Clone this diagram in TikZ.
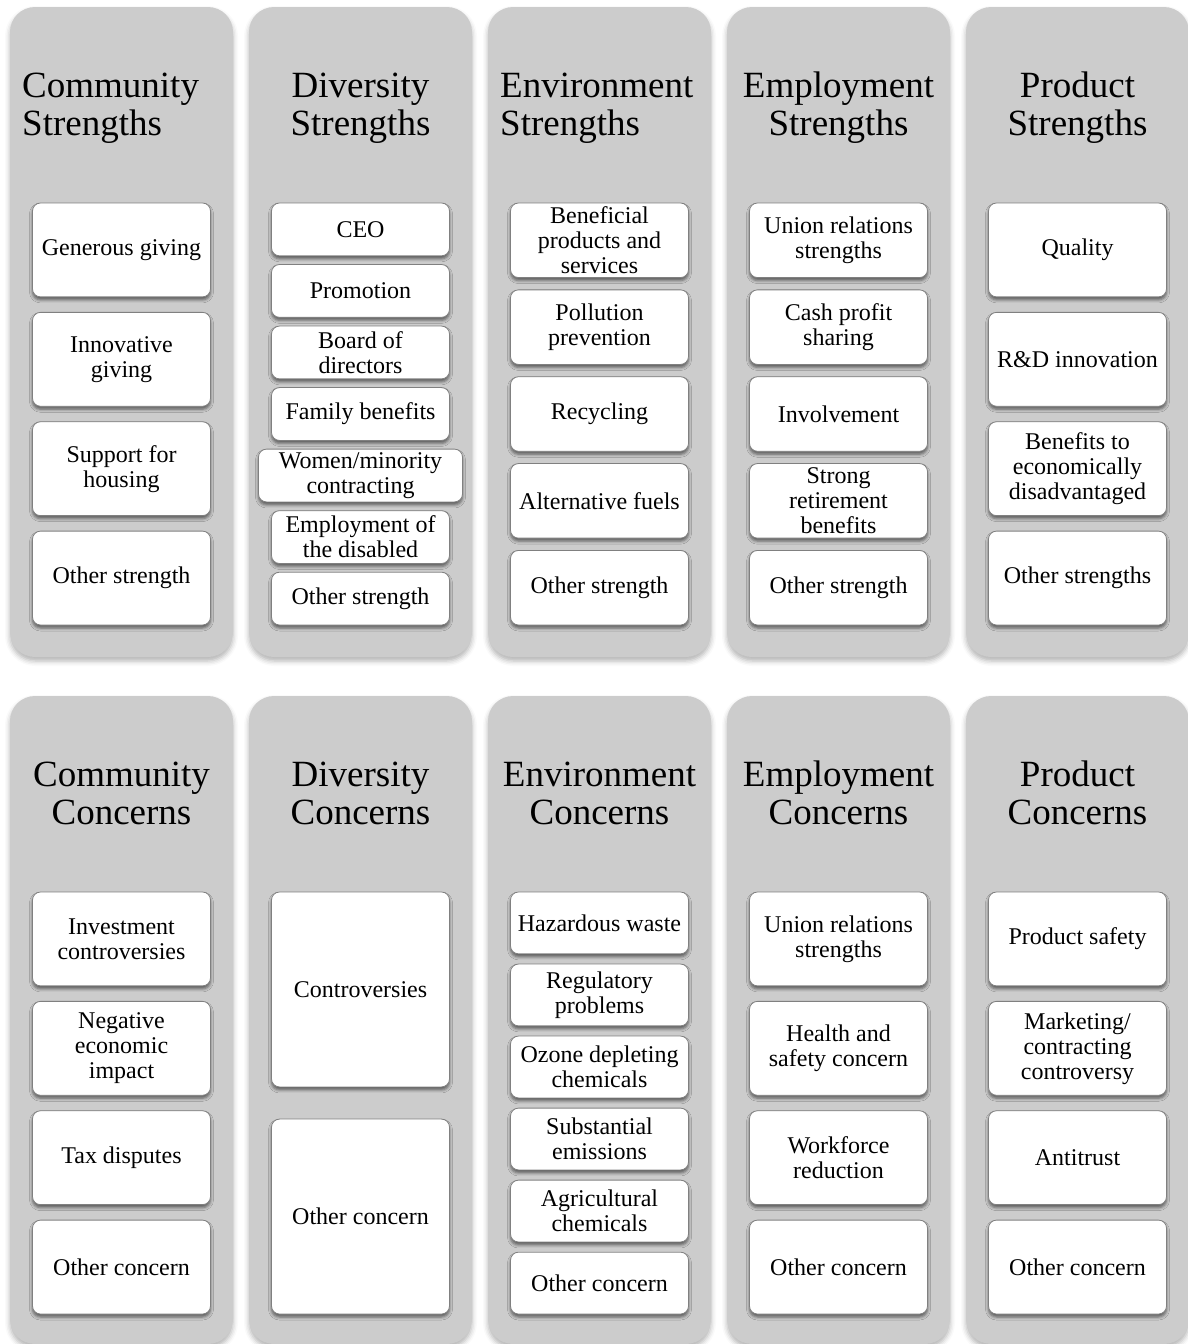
\documentclass[tikz,border=0pt]{standalone}
\usepackage{fontspec}
\setmainfont{Liberation Serif}
\usetikzlibrary{shadows.blur}
\definecolor{panelgray}{HTML}{CCCCCC}
\definecolor{boxline}{HTML}{808080}

% A vertical stack of item boxes inside one panel.
% #1 name prefix, #2 centre x, #3 top y, #4 number of boxes,
% #5 index of the wider box (0 = none), #6 box texts
\newcommand\itemstack[6]{%
  \pgfmathsetmacro\stkh{422/(#4+0.165*(#4-1))}%
  \pgfmathsetmacro\stks{1.165*\stkh}%
  \foreach[count=\k] \t in {#6}{%
    \ifnum\k=#5\relax\def\stkw{204}\else\def\stkw{178}\fi
    \node[item, minimum width=\stkw, minimum height=\stkh]
      (#1-\k) at (#2, {#3+(\k-1)*\stks+\stkh/2+1}) {\t};
  }%
}

\begin{document}
\begin{tikzpicture}[x=1pt, y=-1pt,
  panel/.style={fill=panelgray, draw=none, rounded corners=25pt,
    minimum width=223, inner sep=0pt,
    blur shadow={shadow xshift=0pt, shadow yshift=-4pt,
      shadow blur radius=5pt, shadow opacity=30}},
  item/.style={draw=boxline, line width=0.8pt, fill=white,
    rounded corners=8pt, align=center, inner sep=2pt,
    font=\fontsize{24}{25}\selectfont,
    blur shadow={shadow xshift=0pt, shadow yshift=-3pt,
      shadow blur radius=3pt, shadow opacity=55}},
  title/.style={font=\fontsize{37}{38}\selectfont, inner sep=0pt}]

\useasboundingbox (0,0) rectangle (1187,1344);

% ---- panels ----
\foreach \i/\nm in {0/comm,1/div,2/env,3/emp,4/prod}{
  \node[panel, minimum height=650] (\nm-s) at ({121.5+239*\i}, 332) {};
  \node[panel, minimum height=648] (\nm-c) at ({121.5+239*\i}, 1020) {};
}

% ---- titles, upper row ----
\node[title, anchor=west, align=left] (t-comm-s) at (22,108) {Community\\Strengths};
\node[title, align=center] (t-div-s) at (360.5,108) {Diversity\\Strengths};
\node[title, anchor=west, align=left] (t-env-s) at (500,108) {Environment\\Strengths};
\node[title, align=center] (t-emp-s) at (838.5,108) {Employment\\Strengths};
\node[title, align=center] (t-prod-s) at (1077.5,108) {Product\\Strengths};

% ---- titles, lower row ----
\node[title, align=center] (t-comm-c) at (121.5,793) {Community\\Concerns};
\node[title, align=center] (t-div-c) at (360.5,793) {Diversity\\Concerns};
\node[title, align=center] (t-env-c) at (599.5,793) {Environment\\Concerns};
\node[title, align=center] (t-emp-c) at (838.5,793) {Employment\\Concerns};
\node[title, align=center] (t-prod-c) at (1077.5,793) {Product\\Concerns};

% ---- strengths ----
\itemstack{cs}{121.5}{202}{4}{0}{Generous giving, {Innovative\\giving},
  {Support for\\housing}, Other strength}
\itemstack{ds}{360.5}{202}{7}{5}{CEO, Promotion, {Board of\\directors},
  Family benefits, {Women/minority\\contracting},
  {Employment of\\the disabled}, Other strength}
\itemstack{es}{599.5}{202}{5}{0}{{Beneficial\\products and\\services},
  {Pollution\\prevention}, Recycling, Alternative fuels, Other strength}
\itemstack{ms}{838.5}{202}{5}{0}{{Union relations\\strengths},
  {Cash profit\\sharing}, Involvement, {Strong\\retirement\\benefits},
  Other strength}
\itemstack{ps}{1077.5}{202}{4}{0}{Quality, R\&D innovation,
  {Benefits to\\economically\\disadvantaged}, Other strengths}

% ---- concerns ----
\itemstack{cc}{121.5}{891}{4}{0}{{Investment\\controversies},
  {Negative\\economic\\impact}, Tax disputes, Other concern}
\itemstack{dc}{360.5}{891}{2}{0}{Controversies, Other concern}
\itemstack{ec}{599.5}{891}{6}{0}{Hazardous waste, {Regulatory\\problems},
  {Ozone depleting\\chemicals}, {Substantial\\emissions},
  {Agricultural\\chemicals}, Other concern}
\itemstack{mc}{838.5}{891}{4}{0}{{Union relations\\strengths},
  {Health and\\safety concern}, {Workforce\\reduction}, Other concern}
\itemstack{pc}{1077.5}{891}{4}{0}{Product safety,
  {Marketing/\\contracting\\controversy}, Antitrust, Other concern}

\end{tikzpicture}
\end{document}
